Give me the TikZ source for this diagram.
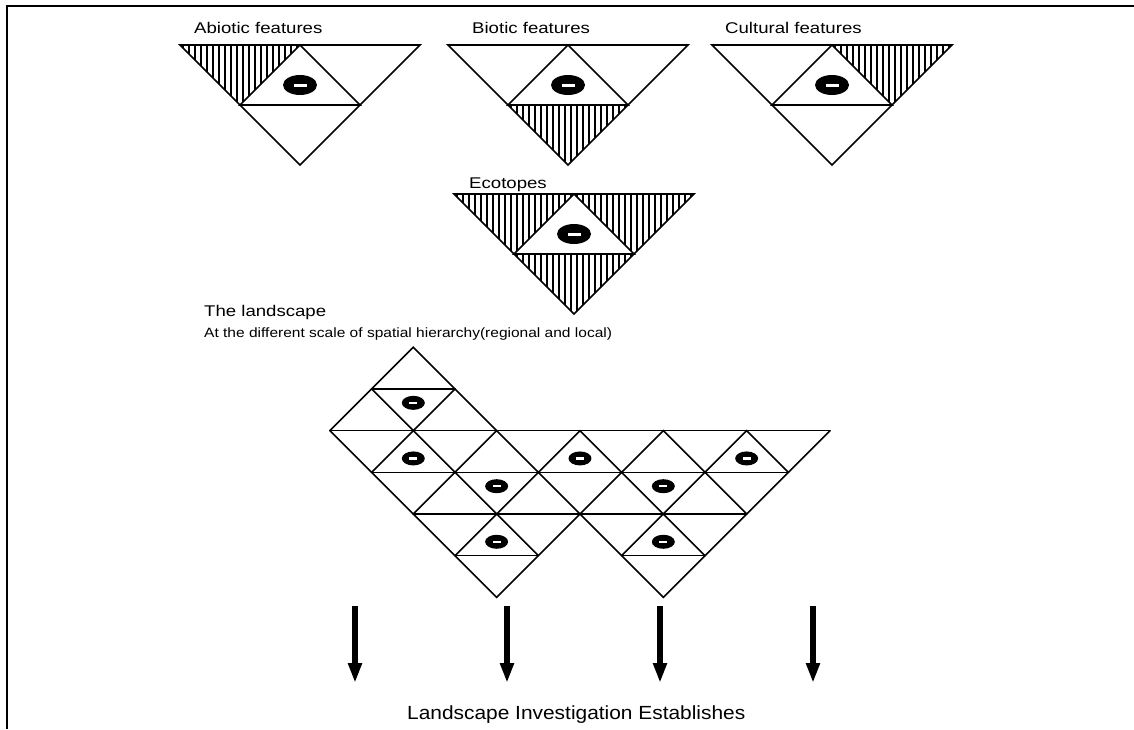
\documentclass[tikz,border=0pt]{standalone}
\usepackage{fontspec}
\setmainfont{Liberation Sans}
\newfontfamily\labfont[FakeStretch=1.2]{Liberation Sans}
\newfontfamily\subfont[FakeStretch=1.15]{Liberation Sans}
\newfontfamily\botfont[FakeStretch=1.1]{Liberation Sans}
\usetikzlibrary{arrows.meta,shapes.geometric}
\tikzset{
  tri/.style={line width=1.6pt, line join=miter},
  gridline/.style={line width=1.6pt, line cap=round},
  hatchline/.style={line width=1.1pt},
  frameline/.style={line width=1.8pt},
  lab/.style={font=\labfont\fontsize{15.5pt}{18pt}\selectfont, inner sep=0pt, anchor=base west},
  sublab/.style={font=\subfont\fontsize{13.5pt}{16pt}\selectfont, inner sep=0pt, anchor=base west},
  botlab/.style={font=\botfont\fontsize{19pt}{22pt}\selectfont, inner sep=0pt, anchor=base west},
  eyeB/.style={ellipse, fill=black, inner sep=0pt, minimum width=34pt, minimum height=20pt,
    path picture={\fill[white] ([xshift=-6.5pt,yshift=-1.5pt]path picture bounding box.center) rectangle ([xshift=6.5pt,yshift=1.5pt]path picture bounding box.center);}},
  eyeS/.style={ellipse, fill=black, inner sep=0pt, minimum width=23pt, minimum height=14pt,
    path picture={\fill[white] ([xshift=-4pt,yshift=-1.1pt]path picture bounding box.center) rectangle ([xshift=4pt,yshift=1.1pt]path picture bounding box.center);}},
  bigarrow/.style={line width=6.5pt, -{Triangle[length=20pt,width=13pt]}}
}
\newcommand\hatchtri[5]{%
  \begin{scope}
    \clip #3 -- #4 -- #5 -- cycle;
    \foreach \k in {0,...,40} \draw[hatchline] ({#1-117+6*\k},{#2-2}) -- ({#1-117+6*\k},{#2+122});
  \end{scope}}
\newcommand\feature[5]{%
  \ifnum#3=1 \hatchtri{#1}{#2}{({#1-120},#2)}{(#1,#2)}{({#1-60},{#2+60})}\fi
  \ifnum#4=1 \hatchtri{#1}{#2}{(#1,#2)}{({#1+120},#2)}{({#1+60},{#2+60})}\fi
  \ifnum#5=1 \hatchtri{#1}{#2}{({#1-60},{#2+60})}{({#1+60},{#2+60})}{(#1,{#2+120})}\fi
  \draw[tri] ({#1-120},#2) -- ({#1+120},#2) -- (#1,{#2+120}) -- cycle;
  \draw[tri] (#1,#2) -- ({#1-60},{#2+60}) -- ({#1+60},{#2+60}) -- cycle;
}
\begin{document}
\begin{tikzpicture}[x=1pt,y=-1pt]
\useasboundingbox (0,0) rectangle (1134,729);
\fill[white] (0,0) rectangle (1134,729);
% frame
\coordinate (fTR) at (1134,6);
\coordinate (fTL) at (7,6);
\coordinate (fBL) at (7,729);
\draw[frameline] (fTR) -- (fTL) -- (fBL);

% feature triangles
\feature{300}{45}{1}{0}{0}
\feature{568}{45}{0}{0}{1}
\feature{832}{45}{0}{1}{0}
\feature{574}{194}{1}{1}{1}
\node[eyeB] (eyeA) at (300,85) {};
\node[eyeB] (eyeBi) at (568,85) {};
\node[eyeB] (eyeC) at (832,85) {};
\node[eyeB] (eyeE) at (574,234) {};

% labels
\node[lab] (tAbio) at (194,33.3) {Abiotic features};
\node[lab] (tBio) at (472,33.3) {Biotic features};
\node[lab] (tCult) at (725,33.3) {Cultural features};
\node[lab] (tEco) at (469,188.3) {Ecotopes};
\node[lab] (tLand) at (204,316) {The landscape};
\node[sublab] (tSub) at (204,337) {At the different scale of spatial hierarchy(regional and local)};

% landscape grid
\begin{scope}[shift={(413.3,347.3)}, x=41.67pt, y=-41.67pt]
  % horizontals
  \draw[gridline] (-1,1) -- (1,1);
  \draw[gridline] (-2,2) -- (10,2);
  \draw[gridline] (-1,3) -- (9,3);
  \draw[gridline] (0,4) -- (8,4);
  \draw[gridline] (1,5) -- (3,5);
  \draw[gridline] (5,5) -- (7,5);
  % outline
  \draw[gridline, line join=miter] (-2,2) -- (0,0) -- (2,2);
  \draw[gridline, line join=miter] (-2,2) -- (2,6) -- (4,4) -- (6,6) -- (10,2);
  % interior
  \draw[gridline] (-1,1) -- (0,2) -- (1,1);
  \draw[gridline] (-1,3) -- (0,2) -- (1,3) -- (2,2) -- (3,3) -- (4,2) -- (5,3) -- (6,2) -- (7,3) -- (8,2) -- (9,3);
  \draw[gridline] (0,4) -- (1,3) -- (2,4) -- (3,3) -- (4,4) -- (5,3) -- (6,4) -- (7,3) -- (8,4);
  \draw[gridline] (1,5) -- (2,4) -- (3,5);
  \draw[gridline] (5,5) -- (6,4) -- (7,5);
  % eyes
  \node[eyeS] (e1) at (0,1.333) {};
  \node[eyeS] (e2) at (0,2.667) {};
  \node[eyeS] (e3) at (4,2.667) {};
  \node[eyeS] (e4) at (8,2.667) {};
  \node[eyeS] (e5) at (2,3.333) {};
  \node[eyeS] (e6) at (6,3.333) {};
  \node[eyeS] (e7) at (2,4.667) {};
  \node[eyeS] (e8) at (6,4.667) {};
\end{scope}

% arrows
\coordinate (a1s) at (355,606);  \coordinate (a1e) at (355,683);
\coordinate (a2s) at (507,606);  \coordinate (a2e) at (507,683);
\coordinate (a3s) at (660,606);  \coordinate (a3e) at (660,683);
\coordinate (a4s) at (813,606);  \coordinate (a4e) at (813,683);
\draw[bigarrow] (a1s) -- (a1e);
\draw[bigarrow] (a2s) -- (a2e);
\draw[bigarrow] (a3s) -- (a3e);
\draw[bigarrow] (a4s) -- (a4e);

\node[botlab] (tBottom) at (407,719) {Landscape Investigation Establishes};
\end{tikzpicture}
\end{document}
